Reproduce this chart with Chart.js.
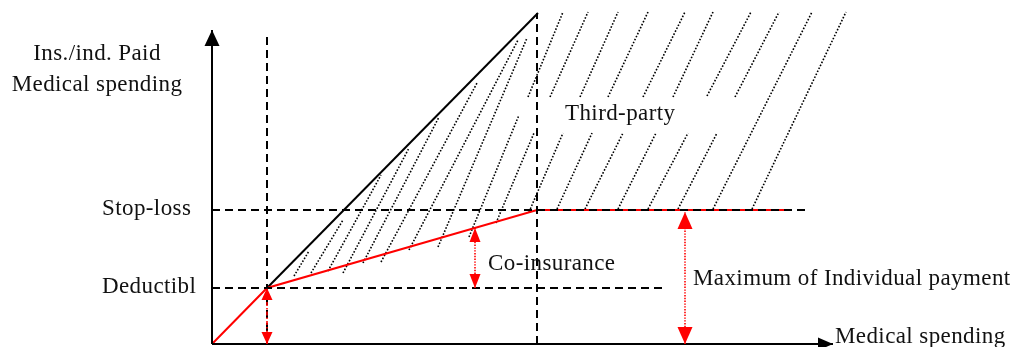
<!DOCTYPE html>
<html>
<head>
<meta charset="utf-8">
<script src="https://cdn.jsdelivr.net/npm/chart.js@4.4.1/dist/chart.umd.min.js"></script>
<style>
  html, body { margin: 0; padding: 0; background: #fff; }
  canvas { display: block; }
</style>
</head>
<body>
<canvas id="coverageChart" width="1012" height="347"></canvas>
<script>
// x = medical spending, y = paid amount, origin where the axes cross
const axisTips = [621, 314];              // x-axis tip, y-axis tip
const tickValues = [56, 134];
const tickLabels = ["Deductibl", "Stop-loss"];

// individual payment: all of it up to the deductible, co-insurance, then capped
const kinkSpending = [0, 55, 325, 578];
const individualPaid = [0, 56, 134, 134];

// total spending (45 degree line)
const totalSpending = [55, 326];
const totalPaid = [56, 331];

// dashed guides
const guideSpending = [55, 325];
const guideTops = [312, 331];
const guideLevels = [56, 134];
const guideEnds = [453, 593];

// double arrows
const arrowSpending = [55, 263, 473];
const arrowLow = [0, 56, 0];
const arrowHigh = [56, 116, 132];

// dotted hatch of the third-party share, [x1, y1, x2, y2]
const triangleHatch = [
  [82, 68, 97, 93], [99, 71, 131, 124], [116, 73, 169, 169], [131, 71, 197, 196],
  [151, 81, 227, 227], [169, 82, 265, 261], [197, 94, 306, 304], [226, 97, 315, 306],
  [257, 107, 307, 229], [284, 121, 322, 211]
];
const thirdPartyHatch = [
  [316, 247, 351, 332], [338, 247, 376, 332], [368, 247, 406, 332], [396, 247, 436, 332],
  [431, 247, 473, 332], [461, 247, 501, 332], [495, 248, 539, 332], [523, 247, 567, 332],
  [501, 135, 600, 332], [540, 135, 634, 332],
  [317, 132, 351, 211], [345, 135, 380, 211], [373, 135, 411, 211], [406, 135, 444, 211],
  [436, 135, 476, 211], [466, 135, 505, 211]
];

const RED = "#ff0000";
const FONT = '23px "Liberation Serif", "Times New Roman", serif';

function line(xs, ys, style) {
  return {
    data: xs.map((v, i) => ({ x: v, y: ys[i] })),
    showLine: true, pointRadius: 0, fill: false,
    borderCapStyle: "butt", borderJoinStyle: "miter",
    ...style
  };
}

const datasets = [];

// red double arrows (on top)
const arrowStyles = [
  { borderDash: [4, 2, 1.5, 2], borderWidth: 1.6, heads: { len: 12, w: 11 } },
  { borderDash: [1.4, 1.4], borderWidth: 1.6, heads: { len: 14, w: 11 } },
  { borderDash: [1.4, 1.4], borderWidth: 1.6, heads: { len: 17, w: 15 } }
];
arrowSpending.forEach((s, i) => {
  datasets.push(line([s, s], [arrowLow[i], arrowHigh[i]],
    { borderColor: RED, ...arrowStyles[i], heads: { ...arrowStyles[i].heads, start: true, end: true } }));
});

// axes
datasets.push(line([0, 0], [0, axisTips[1]], { borderColor: "#000", borderWidth: 2, heads: { len: 16, w: 15, end: true } }));
datasets.push(line([0, axisTips[0]], [0, 0], { borderColor: "#000", borderWidth: 2, heads: { len: 15, w: 13, end: true } }));

// dashed guides
const dash = { borderColor: "#000", borderWidth: 2, borderDash: [8, 5] };
guideLevels.forEach((v, i) => datasets.push(line([0, guideEnds[i]], [v, v], dash)));
guideSpending.forEach((s, i) => datasets.push(line([s, s], [0, guideTops[i]], dash)));

// individual payment and total
datasets.push(line(kinkSpending, individualPaid, { borderColor: RED, borderWidth: 2 }));
datasets.push(line(totalSpending, totalPaid, { borderColor: "#000", borderWidth: 2 }));

// hatch
triangleHatch.concat(thirdPartyHatch).forEach(h => {
  datasets.push(line([h[0], h[2]], [h[1], h[3]], { borderColor: "#000", borderWidth: 1.6, borderDash: [1.6, 1.7] }));
});

function drawHead(ctx, from, tip, h) {
  const ang = Math.atan2(tip.y - from.y, tip.x - from.x);
  ctx.save();
  ctx.translate(tip.x, tip.y);
  ctx.rotate(ang);
  ctx.beginPath();
  ctx.moveTo(0, 0);
  ctx.lineTo(-h.len, -h.w / 2);
  ctx.lineTo(-h.len, h.w / 2);
  ctx.closePath();
  ctx.fill();
  ctx.restore();
}

const arrowHeads = {
  id: "arrowHeads",
  afterDatasetsDraw(chart) {
    const ctx = chart.ctx;
    chart.data.datasets.forEach((ds, i) => {
      if (!ds.heads) return;
      const pts = chart.getDatasetMeta(i).data;
      const a = pts[0], b = pts[pts.length - 1];
      ctx.save();
      ctx.fillStyle = ds.borderColor;
      if (ds.heads.end) drawHead(ctx, a, b, ds.heads);
      if (ds.heads.start) drawHead(ctx, b, a, ds.heads);
      ctx.restore();
    });
  }
};

// free text, in pixels
const notes = [
  { text: "Third-party", left: 565, base: 120 },
  { text: "Co-insurance", left: 488, base: 270 },
  { text: "Maximum of Individual payment", left: 693, base: 285 },
  { text: "Medical spending", left: 835, base: 343 }
];

const diagramText = {
  id: "diagramText",
  afterDraw(chart) {
    const { ctx } = chart;
    const y = chart.scales.y;
    ctx.save();
    ctx.font = FONT;
    ctx.fillStyle = "#111";
    if ("letterSpacing" in ctx) ctx.letterSpacing = "0.4px";
    ctx.textBaseline = "alphabetic";
    ctx.textAlign = "left";
    tickLabels.forEach((t, i) => ctx.fillText(t, 102, y.getPixelForValue(tickValues[i]) + 5));
    notes.forEach(n => ctx.fillText(n.text, n.left, n.base));
    ctx.textAlign = "center";
    ctx.fillText("Ins./ind. Paid", 97, 60);
    ctx.fillText("Medical spending", 97, 91);
    ctx.restore();
  }
};

new Chart(document.getElementById("coverageChart"), {
  type: "scatter",
  data: { datasets },
  options: {
    responsive: false,
    animation: false,
    events: [],
    layout: { padding: 0 },
    plugins: { legend: { display: false }, tooltip: { enabled: false } },
    scales: {
      x: { type: "linear", min: -212, max: 800, display: false },
      y: { type: "linear", min: -3, max: 344, display: false }
    }
  },
  plugins: [arrowHeads, diagramText]
});
</script>
</body>
</html>
